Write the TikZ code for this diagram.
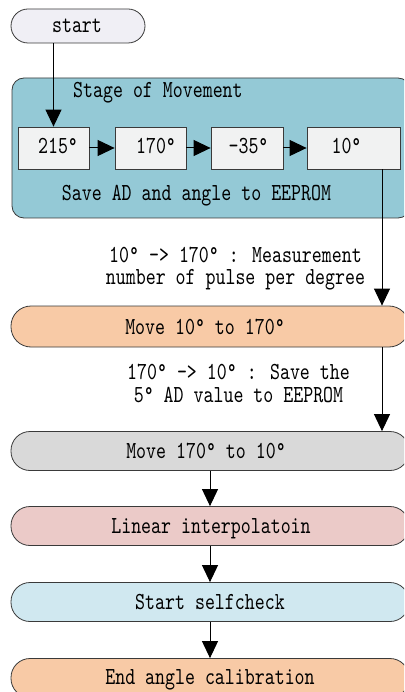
\documentclass[tikz,border=0pt]{standalone}
\usepackage{fontspec}
\newfontfamily\dfont[FakeStretch=0.775]{lmmono10-regular.otf}
\usetikzlibrary{arrows.meta}
\definecolor{linec}{HTML}{3A3A3A}
\definecolor{startfill}{HTML}{F0EFF5}
\definecolor{stagefill}{HTML}{94C9D6}
\definecolor{smallfill}{HTML}{F1F2F2}
\definecolor{peach}{HTML}{F8CAA6}
\definecolor{greyfill}{HTML}{D9D9D9}
\definecolor{pinkfill}{HTML}{EBCAC8}
\definecolor{lightblue}{HTML}{D0E8F0}
\begin{document}
\begin{tikzpicture}[x=1pt,y=-1pt,
  txt/.style={font=\dfont\fontsize{24.5}{26}\selectfont, inner sep=0pt, text=black},
  lbl/.style={font=\dfont\fontsize{24.5}{22}\selectfont, inner sep=0pt, text=black, align=center},
  pill/.style={draw=linec, line width=0.8pt, rounded corners=19pt, minimum width=398pt, minimum height=39pt, inner sep=0pt},
  stagebox/.style={draw=linec, line width=0.8pt, rounded corners=12pt, fill=stagefill, inner sep=0pt},
  smallbox/.style={draw=linec, line width=0.8pt, fill=smallfill, minimum height=42pt, inner sep=0pt},
  arr/.style={draw=black, line width=1pt, -{Triangle[length=17pt,width=16pt]}}
]
\useasboundingbox (0,0) rectangle (404,692);
\clip (0,0) rectangle (404,692);
\fill[white] (0,0) rectangle (404,692);

% start
\node[pill, fill=startfill, minimum width=134pt, minimum height=34pt, rounded corners=17pt] (start) at (78,26) {};
\node[txt, anchor=base] (tstart) at (77,33) {start};

% stage of movement
\node[stagebox, minimum width=398pt, minimum height=140pt] (stage) at (211,148) {};
\node[txt, anchor=base west] (title) at (73,97.5) {Stage of Movement};

\node[smallbox, minimum width=71pt] (b1) at (53.5,148) {};
\node[smallbox, minimum width=71pt] (b2) at (150.5,148) {};
\node[smallbox, minimum width=72pt] (b3) at (247,148) {};
\node[smallbox, minimum width=93pt] (b4) at (353.5,148) {};
\node[txt, anchor=base] (t1) at (58,154) {215°};
\node[txt, anchor=base] (t2) at (156,154) {170°};
\node[txt, anchor=base] (t3) at (248.5,154) {-35°};
\node[txt, anchor=base] (t4) at (346.5,154) {10°};
\node[txt, anchor=base] (save) at (196.5,200.5) {Save AD and angle to EEPROM};

% pills
\node[pill, fill=peach, minimum height=41pt, rounded corners=20pt] (m1) at (210,326.5) {};
\node[txt, anchor=base] (tm1) at (205,334) {Move 10° to 170°};
\node[pill, fill=greyfill] (m2) at (210,451) {};
\node[txt, anchor=base] (tm2) at (206,458.5) {Move 170° to 10°};
\node[pill, fill=pinkfill] (lin) at (210,526) {};
\node[txt, anchor=base] (tlin) at (211,533.5) {Linear interpolatoin};
\node[pill, fill=lightblue] (self) at (210,602) {};
\node[txt, anchor=base] (tself) at (210,609.5) {Start selfcheck};
\node[pill, fill=peach] (endc) at (210,678) {};
\node[txt, anchor=base] (tend) at (210,684.5) {End angle calibration};

% labels
\node[lbl, anchor=north] (l1) at (235.5,247) {10° -> 170° : Measurement\\number of pulse per degree};
\node[lbl, anchor=north] (l2) at (238.5,364) {170° -> 10° : Save the\\[1pt]5° AD value to EEPROM};

% connectors
\coordinate (rx) at (382,0);
\draw[arr] (start.south -| b1.north) -- (b1.north);
\draw[arr] (b1.east) -- (b2.west);
\draw[arr] (b2.east) -- (b3.west);
\draw[arr] (b3.east) -- (b4.west);
\draw[arr] (b4.south -| rx) -- (m1.north -| rx);
\draw[arr] (m1.south -| rx) -- (m2.north -| rx);
\draw[arr] (m2.south) -- (lin.north);
\draw[arr] (lin.south) -- (self.north);
\draw[arr] (self.south) -- (endc.north);
\end{tikzpicture}
\end{document}
